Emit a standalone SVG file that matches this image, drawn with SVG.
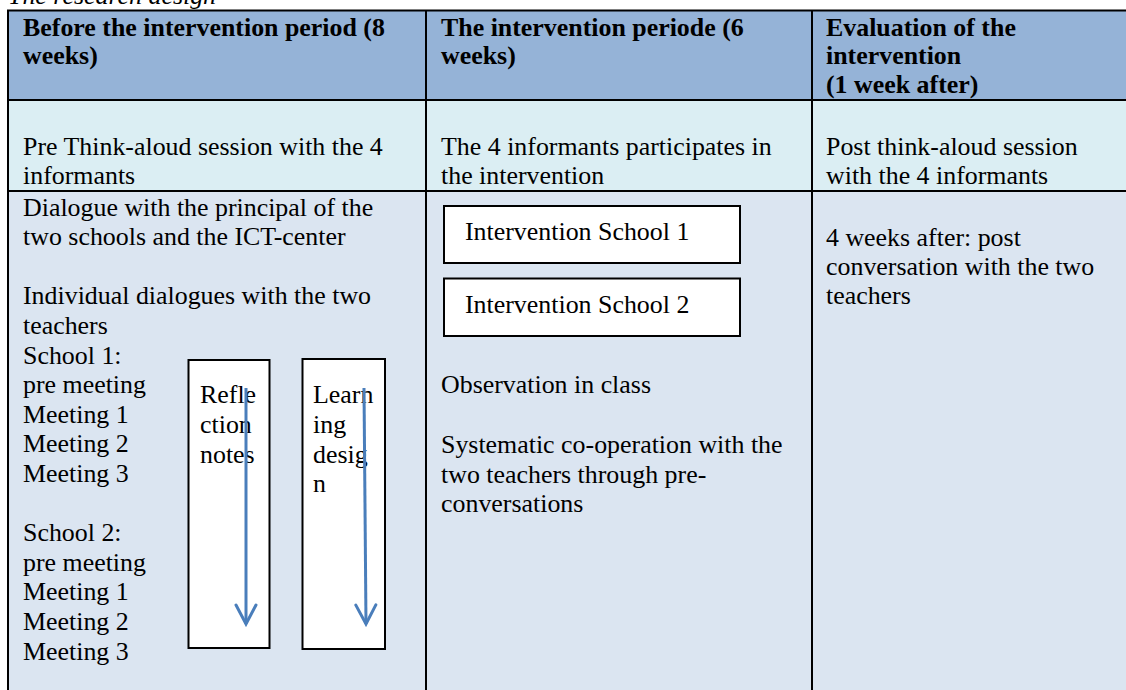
<svg xmlns="http://www.w3.org/2000/svg" width="1126" height="690" viewBox="0 0 1126 690">
<style>
text{font-family:"Liberation Serif","Times New Roman",serif;font-size:25.9px;fill:#000}
.h{font-weight:bold}
.t{font-style:italic}
.hd{fill:#95B3D7}
.r2{fill:#DBEEF3}
.r3{fill:#DBE5F1}
.grid{stroke:#000;stroke-width:2;fill:none}
.box{fill:#fff;stroke:#000;stroke-width:2}
.arr{stroke:#4A7EBB;stroke-width:3;fill:none;marker-end:url(#ah)}
</style>
<defs>
<marker id="ah" markerUnits="userSpaceOnUse" viewBox="-2 -12 24 24" markerWidth="24" markerHeight="24" refX="19" refY="0" orient="auto">
<path d="M0,-10 L19,0 L0,10" fill="none" stroke="#4A7EBB" stroke-width="3" stroke-linecap="round" stroke-linejoin="miter"/>
</marker>
</defs>
<rect width="1126" height="690" fill="#fff"/>
<text class="t" x="8" y="4">The research design</text>
<g id="table">
<rect class="hd" x="8" y="10.5" width="1118" height="89.5"/>
<rect class="r2" x="8" y="100" width="1118" height="91"/>
<rect class="r3" x="8" y="191" width="1118" height="499"/>
<path class="grid" d="M8,10.5 H1126 M8,100 H1126 M8,191 H1126 M8,9.5 V690 M426,10 V690 M812,10 V690"/>
</g>
<g id="header1">
<text class="h" x="23" y="36">Before the intervention period (8</text>
<text class="h" x="23" y="64">weeks)</text>
</g>
<g id="header2">
<text class="h" x="441" y="36">The intervention periode (6</text>
<text class="h" x="441" y="64">weeks)</text>
</g>
<g id="header3">
<text class="h" x="826" y="36">Evaluation of the</text>
<text class="h" x="826" y="64">intervention</text>
<text class="h" x="826" y="93">(1 week after)</text>
</g>
<g id="pre-session">
<text x="23" y="155">Pre Think-aloud session with the 4</text>
<text x="23" y="184">informants</text>
</g>
<g id="intervention-participation">
<text x="441" y="155">The 4 informants participates in</text>
<text x="441" y="184">the intervention</text>
</g>
<g id="post-session">
<text x="826" y="155">Post think-aloud session</text>
<text x="826" y="184">with the 4 informants</text>
</g>
<g id="before-details">
<text x="23" y="216">Dialogue with the principal of the</text>
<text x="23" y="245">two schools and the ICT-center</text>
<text x="23" y="304">Individual dialogues with the two</text>
<text x="23" y="334">teachers</text>
<text x="23" y="364">School 1:</text>
<text x="23" y="393">pre meeting</text>
<text x="23" y="423">Meeting 1</text>
<text x="23" y="452">Meeting 2</text>
<text x="23" y="482">Meeting 3</text>
<text x="23" y="541">School 2:</text>
<text x="23" y="571">pre meeting</text>
<text x="23" y="600">Meeting 1</text>
<text x="23" y="630">Meeting 2</text>
<text x="23" y="660">Meeting 3</text>
</g>
<g id="reflection-notes">
<rect class="box" x="188.5" y="360" width="81" height="288"/>
<text x="200" y="403">Refle</text>
<text x="200" y="433">ction</text>
<text x="200" y="463">notes</text>
</g>
<g id="learning-design">
<rect class="box" x="302.5" y="359" width="82.5" height="290"/>
<text x="313" y="403">Learn</text>
<text x="313" y="433">ing</text>
<text x="313" y="463">desig</text>
<text x="313" y="492">n</text>
</g>
<g id="intervention-school-1">
<rect class="box" x="444" y="206" width="296" height="57"/>
<text x="465" y="240">Intervention School 1</text>
</g>
<g id="intervention-school-2">
<rect class="box" x="444" y="278.5" width="296" height="57.5"/>
<text x="465" y="313">Intervention School 2</text>
</g>
<g id="intervention-details">
<text x="441" y="393">Observation in class</text>
<text x="441" y="453">Systematic co-operation with the</text>
<text x="441" y="483">two teachers through pre-</text>
<text x="441" y="512">conversations</text>
</g>
<g id="evaluation-details">
<text x="826" y="246">4 weeks after: post</text>
<text x="826" y="275">conversation with the two</text>
<text x="826" y="304">teachers</text>
</g>
<g id="connectors">
<line class="arr" x1="246" y1="388" x2="246" y2="624"/>
<line class="arr" x1="364" y1="388" x2="366" y2="624"/>
</g>
</svg>
